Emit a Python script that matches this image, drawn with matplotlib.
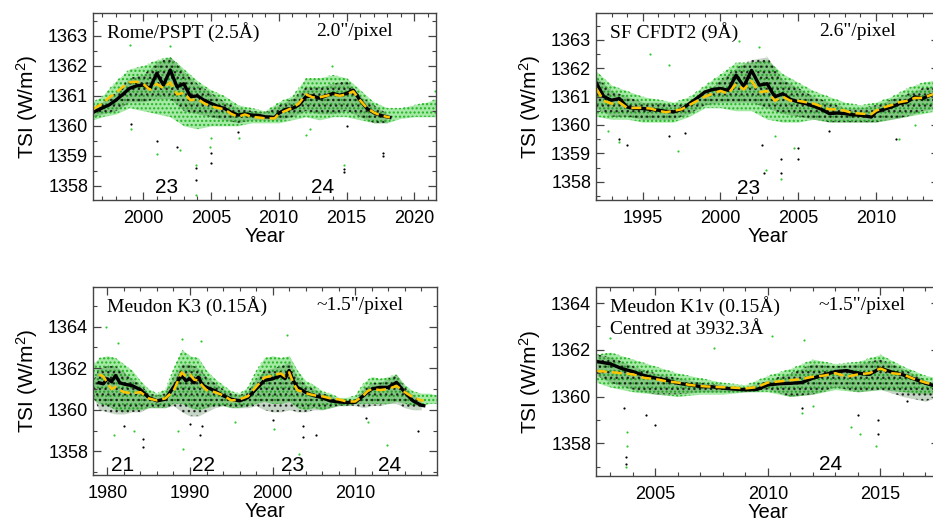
import numpy as np
import matplotlib as mpl
mpl.use('Agg')
import matplotlib.pyplot as plt
from matplotlib.ticker import MultipleLocator

plt.rcParams['font.family'] = ['Liberation Sans', 'DejaVu Sans']
plt.rcParams['mathtext.default'] = 'regular'
plt.rcParams['hatch.linewidth'] = 1.0

GREEN = '#2fcc2f'
YELLOW = '#ffc400'
FRAME = '#444444'

# ---------------- Rome/PSPT ----------------
rome_years = [1996.3, 1997, 1997.5, 1998, 1998.5, 1999, 1999.5, 2000, 2000.5, 2001,
              2001.5, 2002, 2002.5, 2003, 2003.5, 2004, 2004.5, 2005, 2005.5, 2006,
              2006.5, 2007, 2007.5, 2008, 2008.5, 2009, 2009.7, 2010, 2010.5, 2011,
              2011.5, 2012, 2012.5, 2013, 2013.5, 2014, 2014.5, 2015, 2015.5, 2016,
              2016.5, 2017, 2017.5, 2018.2]
rome_black = [1360.45, 1360.6, 1360.7, 1360.86, 1361.05, 1361.25, 1361.33, 1361.36, 1361.25, 1361.75,
              1361.36, 1361.86, 1361.3, 1361.4, 1360.97, 1361.0, 1360.85, 1360.75, 1360.65, 1360.58,
              1360.45, 1360.36, 1360.4, 1360.36, 1360.35, 1360.3, 1360.28, 1360.42, 1360.55, 1360.58,
              1360.7, 1360.97, 1361.0, 1360.92, 1361.0, 1361.08, 1361.02, 1361.08, 1361.19, 1360.86,
              1360.58, 1360.44, 1360.35, 1360.28]
rome_yellow = [1360.55, 1360.75, 1360.95, 1361.1, 1361.3, 1361.45, 1361.47, 1361.4, 1361.2, 1361.4,
               1361.25, 1361.45, 1361.05, 1361.1, 1360.85, 1360.9, 1360.75, 1360.65, 1360.6, 1360.55,
               1360.4, 1360.3, 1360.38, 1360.3, 1360.28, 1360.25, 1360.25, 1360.4, 1360.5, 1360.6,
               1360.75, 1361.05, 1360.95, 1360.95, 1361.0, 1361.05, 1361.0, 1361.05, 1361.15, 1360.85,
               1360.6, 1360.45, 1360.35, 1360.28]
rome_env_years = [1996.3, 1997, 1998, 1999, 2000, 2001, 2002, 2003, 2004, 2005, 2006, 2007, 2008,
                  2009, 2010, 2011, 2012, 2013, 2014, 2015, 2016, 2017, 2018, 2019, 2020, 2021, 2021.6]
rome_green_lo = [1360.2, 1360.3, 1360.4, 1360.6, 1360.5, 1360.4, 1360.3, 1360.0, 1359.9, 1360.0,
                 1360.0, 1360.0, 1360.1, 1360.1, 1360.1, 1360.2, 1360.3, 1360.2, 1360.3, 1360.3,
                 1360.2, 1360.1, 1360.1, 1360.25, 1360.3, 1360.3, 1360.3]
rome_green_hi = [1360.8, 1361.0, 1361.5, 1361.9, 1362.0, 1362.2, 1362.3, 1361.9, 1361.5, 1361.2,
                 1361.0, 1360.7, 1360.6, 1360.5, 1360.8, 1361.0, 1361.6, 1361.6, 1361.7, 1361.6,
                 1361.2, 1360.8, 1360.6, 1360.6, 1360.7, 1360.8, 1360.9]
rome_dark_lo = [1360.3, 1360.4, 1360.5, 1360.8, 1360.8, 1360.9, 1360.9, 1360.5, 1360.4, 1360.3,
                1360.2, 1360.1, 1360.2, 1360.2, 1360.2, 1360.3, 1360.5, 1360.4, 1360.4, 1360.5,
                1360.3, 1360.1, 1360.1]
rome_dark_hi = [1360.6, 1360.8, 1361.1, 1361.6, 1361.7, 1362.1, 1362.3, 1361.8, 1361.4, 1361.1,
                1360.8, 1360.6, 1360.5, 1360.45, 1360.7, 1360.9, 1361.3, 1361.3, 1361.4, 1361.5,
                1361.0, 1360.7, 1360.4]
rome_out_green_x = [1999.0, 2002.0, 2001.0, 2002.7, 2003.9, 2003.9, 2004.9, 2005.0, 2012.0, 2012.3,
                    2014.8, 2013.9, 1999.1, 2007.1, 2021.5]
rome_out_green_y = [1362.7, 1362.65, 1359.05, 1359.2, 1357.7, 1358.7, 1359.3, 1359.6, 1359.7, 1359.9,
                    1358.7, 1362.0, 1359.9, 1359.6, 1361.15]
rome_out_black_x = [2003.9, 2003.9, 2005.0, 2005.0, 2014.85, 2014.85, 2017.7, 2017.7, 2001.0, 1999.1,
                    2002.5, 2015.0, 2007.0]
rome_out_black_y = [1358.2, 1358.6, 1358.75, 1359.1, 1358.45, 1358.55, 1359.0, 1359.1, 1359.5, 1360.05,
                    1359.3, 1360.0, 1359.8]

# ---------------- SF CFDT2 ----------------
sf_years = [1992.0, 1992.5, 1993, 1993.5, 1994, 1994.5, 1995, 1995.5, 1996, 1996.5,
            1997, 1997.5, 1998, 1998.5, 1999, 1999.5, 2000, 2000.5, 2001, 2001.5,
            2002, 2002.5, 2003, 2003.5, 2004, 2004.5, 2005, 2005.5, 2006, 2006.5,
            2007, 2007.5, 2008, 2008.5, 2009, 2009.7, 2010, 2010.5, 2011, 2011.5,
            2012, 2012.5, 2013, 2013.5, 2014]
sf_black = [1361.5, 1361.0, 1360.87, 1360.93, 1360.63, 1360.58, 1360.58, 1360.55, 1360.52, 1360.48,
            1360.46, 1360.55, 1360.75, 1360.95, 1361.16, 1361.25, 1361.28, 1361.22, 1361.75, 1361.36,
            1361.92, 1361.4, 1361.45, 1360.99, 1361.1, 1360.9, 1360.81, 1360.75, 1360.66, 1360.55,
            1360.4, 1360.42, 1360.4, 1360.36, 1360.34, 1360.28, 1360.46, 1360.55, 1360.63, 1360.75,
            1360.81, 1360.99, 1360.93, 1361.05, 1361.1]
sf_yellow = [1361.3, 1360.85, 1360.75, 1360.8, 1360.6, 1360.6, 1360.6, 1360.58, 1360.5, 1360.45,
             1360.5, 1360.55, 1360.7, 1360.85, 1361.0, 1361.1, 1361.2, 1361.1, 1361.45, 1361.25,
             1361.55, 1361.15, 1361.2, 1360.85, 1361.0, 1360.85, 1360.85, 1360.8, 1360.75, 1360.65,
             1360.55, 1360.55, 1360.5, 1360.42, 1360.4, 1360.38, 1360.5, 1360.62, 1360.7, 1360.8,
             1360.85, 1360.95, 1360.95, 1361.05, 1361.15]
sf_env_years = [1992, 1993, 1994, 1995, 1996, 1997, 1998, 1999, 2000, 2001, 2002, 2003,
                2004, 2005, 2006, 2007, 2008, 2009, 2010, 2011, 2012, 2013, 2014]
sf_green_lo = [1360.3, 1360.2, 1360.2, 1360.1, 1360.1, 1360.1, 1360.3, 1360.6, 1360.6, 1360.5,
               1360.5, 1360.2, 1360.1, 1360.1, 1360.2, 1360.1, 1360.1, 1360.1, 1360.1, 1360.2,
               1360.3, 1360.4, 1360.5]
sf_green_hi = [1361.9, 1361.4, 1361.2, 1361.0, 1360.9, 1360.8, 1361.0, 1361.4, 1361.8, 1362.2,
               1362.2, 1362.3, 1361.8, 1361.5, 1361.2, 1361.0, 1360.8, 1360.7, 1360.8, 1361.0,
               1361.3, 1361.5, 1361.6]
sf_dark_lo = [1360.6, 1360.3, 1360.3, 1360.2, 1360.2, 1360.2, 1360.4, 1360.7, 1360.8, 1360.8,
              1360.8, 1360.6, 1360.4, 1360.3, 1360.2, 1360.1, 1360.1, 1360.1, 1360.1, 1360.2,
              1360.3, 1360.5, 1360.6]
sf_dark_hi = [1361.7, 1361.2, 1361.0, 1360.8, 1360.8, 1360.7, 1360.8, 1361.1, 1361.6, 1362.0,
              1362.3, 1362.4, 1361.6, 1361.3, 1361.0, 1360.8, 1360.6, 1360.6, 1360.7, 1360.9,
              1361.1, 1361.3, 1361.4]
sf_out_green_x = [1995.5, 1996.7, 2001.2, 2002.5, 1997.3, 1993.5, 2002.9, 2003.9, 2004.7, 2003.5,
                  2011.5, 2012.5, 1992.8]
sf_out_green_y = [1362.5, 1362.1, 1362.95, 1362.75, 1359.1, 1359.4, 1358.4, 1358.1, 1359.2, 1359.6,
                  1359.5, 1360.0, 1359.8]
sf_out_black_x = [2002.7, 2002.8, 2003.9, 2003.9, 2005.0, 2005.0, 1996.7, 1997.7, 1993.5, 2011.3,
                  2007.0, 1994.0]
sf_out_black_y = [1359.3, 1358.3, 1358.3, 1358.8, 1358.8, 1359.2, 1359.6, 1359.7, 1359.5, 1359.5,
                  1359.8, 1359.3]

# ---------------- Meudon K3 ----------------
k3_years = [1979, 1979.5, 1980, 1980.5, 1981, 1981.5, 1982, 1983, 1984, 1985,
            1986, 1987, 1988, 1989, 1989.5, 1990, 1990.5, 1991, 1991.5, 1992,
            1993, 1994, 1995, 1996, 1997, 1998, 1999, 2000, 2001, 2001.5,
            2002, 2002.5, 2003, 2004, 2005, 2006, 2007, 2008, 2009, 2010,
            2011, 2011.5, 2012, 2013, 2014, 2015, 2016, 2017, 2018, 2018.3]
k3_black = [1361.3, 1361.25, 1361.49, 1361.35, 1361.65, 1361.3, 1361.24, 1361.16, 1360.97, 1360.59,
            1360.43, 1360.51, 1361.08, 1361.65, 1361.4, 1361.49, 1361.3, 1361.57, 1361.2, 1361.08,
            1360.92, 1360.68, 1360.51, 1360.43, 1360.59, 1361.0, 1361.41, 1361.49, 1361.65, 1361.5,
            1361.89, 1361.4, 1361.08, 1360.84, 1360.68, 1360.59, 1360.43, 1360.38, 1360.35, 1360.36,
            1360.68, 1360.85, 1361.0, 1361.08, 1361.08, 1361.32, 1360.84, 1360.43, 1360.22, 1360.2]
k3_yellow = [1361.7, 1361.6, 1361.3, 1361.0, 1361.1, 1360.95, 1360.85, 1360.8, 1360.85, 1360.55,
             1360.45, 1360.55, 1360.9, 1361.8, 1361.6, 1361.7, 1361.45, 1361.4, 1361.15, 1360.95,
             1360.85, 1360.7, 1360.45, 1360.5, 1360.65, 1361.1, 1361.55, 1361.65, 1361.75, 1361.6,
             1361.8, 1361.3, 1360.95, 1360.8, 1360.7, 1360.65, 1360.55, 1360.5, 1360.4, 1360.4,
             1360.7, 1360.9, 1361.0, 1360.95, 1361.0, 1361.15, 1360.85, 1360.6, 1360.45, 1360.45]
k3_env_years = [1978.3, 1979, 1980, 1981, 1982, 1983, 1984, 1985, 1986, 1987,
                1988, 1989, 1990, 1991, 1992, 1993, 1994, 1995, 1996, 1997,
                1998, 1999, 2000, 2001, 2002, 2003, 2004, 2005, 2006, 2007,
                2008, 2009, 2010, 2011, 2012, 2013, 2014, 2015, 2016, 2017,
                2018, 2019, 2019.9]
k3_green_lo = [1360.5, 1360.3, 1360.2, 1360.0, 1359.9, 1360.0, 1360.0, 1360.1, 1360.1, 1360.1,
               1360.3, 1360.3, 1360.1, 1360.0, 1360.1, 1360.2, 1360.2, 1360.1, 1360.1, 1360.2,
               1360.3, 1360.4, 1360.3, 1360.3, 1360.4, 1360.1, 1360.0, 1360.1, 1360.0, 1360.1,
               1360.2, 1360.2, 1360.3, 1360.3, 1360.3, 1360.3, 1360.3, 1360.4, 1360.3, 1360.2,
               1360.2, 1360.3, 1360.3]
k3_green_hi = [1362.2, 1362.5, 1362.6, 1362.5, 1362.2, 1361.9, 1361.4, 1361.0, 1360.8, 1361.0,
               1362.0, 1362.9, 1362.6, 1362.5, 1361.9, 1361.5, 1361.2, 1360.9, 1360.8, 1361.1,
               1361.9, 1362.5, 1362.6, 1362.5, 1362.6, 1361.9, 1361.4, 1361.2, 1360.9, 1360.8,
               1360.6, 1360.6, 1360.7, 1361.3, 1361.6, 1361.5, 1361.6, 1361.7, 1361.2, 1360.9,
               1360.8, 1360.8, 1360.7]
k3_dark_lo = [1360.6, 1360.0, 1359.9, 1359.8, 1359.8, 1359.9, 1359.9, 1360.1, 1360.1, 1360.1,
              1360.2, 1359.9, 1359.7, 1359.7, 1359.9, 1360.1, 1360.2, 1360.1, 1360.1, 1360.1,
              1360.2, 1360.0, 1359.9, 1359.9, 1360.0, 1359.9, 1359.9, 1360.0, 1360.0, 1360.1,
              1360.2, 1360.2, 1360.2, 1360.1, 1360.2, 1360.2, 1360.3, 1360.3, 1360.1, 1360.0,
              1360.0]
k3_dark_hi = [1361.4, 1362.0, 1362.1, 1362.1, 1361.8, 1361.5, 1361.2, 1360.8, 1360.7, 1360.8,
              1361.6, 1362.2, 1362.2, 1362.0, 1361.6, 1361.3, 1361.0, 1360.8, 1360.7, 1360.9,
              1361.5, 1361.9, 1362.0, 1362.1, 1362.3, 1361.6, 1361.2, 1361.0, 1360.8, 1360.7,
              1360.5, 1360.5, 1360.5, 1361.0, 1361.3, 1361.3, 1361.5, 1361.7, 1361.1, 1360.7,
              1360.5]
k3_out_green_x = [1979.8, 1981.3, 1989.0, 1991.3, 2001.8, 1988.5, 1989.2, 1983.2, 2000.2, 2003.2,
                  2003.6, 2013.8, 2011.5, 1980.8, 1995.5]
k3_out_green_y = [1364.0, 1363.2, 1363.4, 1363.3, 1363.6, 1359.0, 1358.1, 1359.0, 1359.1, 1357.9,
                  1357.3, 1358.3, 1359.4, 1358.8, 1359.4]
k3_out_black_x = [1984.3, 1984.3, 1991.2, 1991.5, 2003.7, 2003.7, 2005.3, 2017.6, 1982.0, 1990.0,
                  2000.1, 2011.3]
k3_out_black_y = [1358.2, 1358.6, 1358.8, 1359.2, 1358.7, 1359.2, 1358.8, 1359.0, 1359.2, 1359.3,
                  1359.5, 1359.6]

# ---------------- Meudon K1v ----------------
k1v_years = [2002.4, 2003, 2003.5, 2004, 2004.5, 2005, 2005.5, 2006, 2006.5, 2007,
             2007.5, 2008, 2008.5, 2009, 2009.5, 2010, 2010.5, 2011, 2011.5, 2012,
             2012.5, 2013, 2013.5, 2014, 2014.5, 2015, 2015.5, 2016, 2016.5, 2017, 2017.6]
k1v_black = [1361.5, 1361.4, 1361.2, 1361.07, 1360.9, 1360.79, 1360.7, 1360.57, 1360.5, 1360.43,
             1360.42, 1360.36, 1360.32, 1360.29, 1360.3, 1360.5, 1360.55, 1360.57, 1360.6, 1360.79,
             1360.93, 1361.07, 1361.11, 1361.0, 1360.95, 1361.21, 1361.05, 1360.93, 1360.75, 1360.57,
             1360.4]
k1v_yellow = [1361.1, 1361.05, 1361.0, 1360.95, 1360.8, 1360.75, 1360.65, 1360.6, 1360.5, 1360.45,
              1360.42, 1360.4, 1360.38, 1360.35, 1360.4, 1360.6, 1360.65, 1360.7, 1360.75, 1360.85,
              1360.9, 1361.0, 1360.85, 1360.95, 1361.0, 1361.2, 1361.0, 1360.95, 1360.75, 1360.6,
              1360.45]
k1v_env_years = [2002.4, 2003, 2004, 2005, 2006, 2007, 2008, 2009, 2010, 2011,
                 2012, 2013, 2014, 2015, 2016, 2017, 2017.6]
k1v_green_lo = [1360.6, 1360.4, 1360.2, 1360.1, 1360.0, 1360.1, 1360.1, 1360.2, 1360.2, 1360.0,
                1360.1, 1360.3, 1360.2, 1360.3, 1360.2, 1360.1, 1360.1]
k1v_green_hi = [1361.8, 1361.9, 1361.6, 1361.3, 1361.0, 1360.8, 1360.6, 1360.5, 1360.9, 1361.2,
                1361.6, 1361.4, 1361.5, 1361.8, 1361.3, 1360.9, 1360.8]
k1v_dark_lo = [1360.9, 1360.6, 1360.3, 1360.1, 1360.1, 1360.2, 1360.2, 1360.2, 1360.3, 1360.0,
               1360.1, 1360.4, 1360.2, 1360.3, 1360.0, 1359.8, 1360.0]
k1v_dark_hi = [1361.8, 1361.7, 1361.3, 1361.0, 1360.8, 1360.6, 1360.5, 1360.4, 1360.7, 1361.0,
               1361.4, 1361.3, 1361.4, 1361.6, 1361.2, 1360.7, 1360.5]
k1v_out_green_x = [2003.7, 2003.75, 2003.75, 2007.6, 2010.2, 2011.6, 2003.0, 2013.7, 2014.1, 2014.8,
                   2011.5, 2012.0]
k1v_out_green_y = [1357.0, 1357.9, 1358.5, 1362.1, 1362.6, 1362.4, 1362.5, 1358.7, 1358.4, 1357.9,
                   1359.3, 1359.6]
k1v_out_black_x = [2003.7, 2003.7, 2004.6, 2005.0, 2014.0, 2014.9, 2014.9, 2016.2, 2011.5, 2003.6]
k1v_out_black_y = [1357.4, 1357.1, 1359.2, 1358.8, 1359.2, 1359.0, 1358.4, 1359.8, 1359.5, 1359.5]


W, H = 933, 525
fig = plt.figure(figsize=(W / 100, H / 100), dpi=100)


def panel(rect, xlim, ylim, xmaj, xmin, ymaj, ymin, years, black, yellow,
          env_years, g_lo, g_hi, d_lo, d_hi, og_x, og_y, ob_x, ob_y):
    x0, y0, x1, y1 = rect
    ax = fig.add_axes([x0 / W, 1 - y1 / H, (x1 - x0) / W, (y1 - y0) / H])
    # cloud of daily values
    ax.fill_between(env_years, g_lo, g_hi, color=GREEN, alpha=0.42, lw=0)
    ax.fill_between(env_years, g_lo, g_hi, facecolor='none', edgecolor='#22b522',
                    hatch='....', lw=0)
    n = len(d_lo)
    ax.fill_between(env_years[:n], d_lo, d_hi, color='#1f5f1f', alpha=0.25, lw=0)
    ax.fill_between(env_years[:n], d_lo, d_hi, facecolor='none', edgecolor='#111111',
                    hatch='...', lw=0, alpha=0.8)
    ax.scatter(og_x, og_y, s=2.5, color=GREEN, lw=0)
    ax.scatter(ob_x, ob_y, s=2.5, color='black', lw=0)
    # smoothed curves
    ax.plot(years, black, color='black', lw=2.4)
    ax.plot(years, yellow, color=YELLOW, lw=1.8, dashes=(4, 2))

    ax.set_xlim(*xlim)
    ax.set_ylim(*ylim)
    ax.xaxis.set_major_locator(MultipleLocator(xmaj))
    ax.xaxis.set_minor_locator(MultipleLocator(xmin))
    ax.yaxis.set_major_locator(MultipleLocator(ymaj))
    ax.yaxis.set_minor_locator(MultipleLocator(ymin))
    ax.tick_params(which='both', direction='in', top=True, right=True,
                   color=FRAME, labelsize=13)
    ax.tick_params(which='major', length=6, width=0.9)
    ax.tick_params(which='minor', length=3, width=0.8)
    ax.tick_params(axis='x', pad=7)
    for s in ax.spines.values():
        s.set_color(FRAME)
        s.set_linewidth(1.0)
    ax.yaxis.set_major_formatter(mpl.ticker.FormatStrFormatter('%d'))
    ax.set_xlabel('Year', fontsize=14.5, labelpad=0)
    ax.set_ylabel('TSI (W/m$^2$)', fontsize=15, labelpad=6)
    return ax


serif = ['Liberation Serif', 'DejaVu Serif']
TXT = 14
CYC = 15

ax1 = panel((93, 13, 436, 200), (1996.3, 2021.6), (1357.53, 1363.76), 5, 1, 1, 0.5,
            rome_years, rome_black, rome_yellow, rome_env_years,
            rome_green_lo, rome_green_hi, rome_dark_lo, rome_dark_hi,
            rome_out_green_x, rome_out_green_y, rome_out_black_x, rome_out_black_y)
ax1.text(0.04, 0.9, 'Rome/PSPT (2.5Å)', transform=ax1.transAxes, family=serif,
         fontsize=TXT, va='center')
ax1.text(0.65, 0.9, '2.0"/pixel', transform=ax1.transAxes, family=serif,
         fontsize=TXT, va='center')
ax1.text(2001.7, 1357.94, '23', fontsize=CYC, ha='center', va='center')
ax1.text(2013.2, 1357.94, '24', fontsize=CYC, ha='center', va='center')

ax2 = panel((596, 13, 939, 200), (1992.0, 2014.05), (1357.36, 1363.94), 5, 1, 1, 0.5,
            sf_years, sf_black, sf_yellow, sf_env_years,
            sf_green_lo, sf_green_hi, sf_dark_lo, sf_dark_hi,
            sf_out_green_x, sf_out_green_y, sf_out_black_x, sf_out_black_y)
ax2.text(0.04, 0.9, 'SF CFDT2 (9Å)', transform=ax2.transAxes, family=serif,
         fontsize=TXT, va='center')
ax2.text(0.65, 0.9, '2.6"/pixel', transform=ax2.transAxes, family=serif,
         fontsize=TXT, va='center')
ax2.text(2001.8, 1357.78, '23', fontsize=CYC, ha='center', va='center')

ax3 = panel((93, 287, 437, 475), (1978.26, 2019.9), (1356.87, 1365.9), 10, 2, 2, 1,
            k3_years, k3_black, k3_yellow, k3_env_years,
            k3_green_lo, k3_green_hi, k3_dark_lo, k3_dark_hi,
            k3_out_green_x, k3_out_green_y, k3_out_black_x, k3_out_black_y)
ax3.text(0.04, 0.9, 'Meudon K3 (0.15Å)', transform=ax3.transAxes, family=serif,
         fontsize=TXT, va='center')
ax3.text(0.65, 0.9, '~1.5"/pixel', transform=ax3.transAxes, family=serif,
         fontsize=TXT, va='center')
for cyc, yr in zip(['21', '22', '23', '24'], [1981.8, 1991.6, 2002.4, 2014.2]):
    ax3.text(yr, 1357.35, cyc, fontsize=CYC, ha='center', va='center')

ax4 = panel((596, 287, 939, 476), (2002.36, 2017.6), (1356.6, 1364.69), 5, 1, 2, 1,
            k1v_years, k1v_black, k1v_yellow, k1v_env_years,
            k1v_green_lo, k1v_green_hi, k1v_dark_lo, k1v_dark_hi,
            k1v_out_green_x, k1v_out_green_y, k1v_out_black_x, k1v_out_black_y)
ax4.text(0.04, 0.9, 'Meudon K1v (0.15Å)', transform=ax4.transAxes, family=serif,
         fontsize=TXT, va='center')
ax4.text(0.04, 0.775, 'Centred at 3932.3Å', transform=ax4.transAxes, family=serif,
         fontsize=TXT, va='center')
ax4.text(0.65, 0.9, '~1.5"/pixel', transform=ax4.transAxes, family=serif,
         fontsize=TXT, va='center')
ax4.text(2012.8, 1357.1, '24', fontsize=CYC, ha='center', va='center')

fig.savefig('out.png', dpi=100)
